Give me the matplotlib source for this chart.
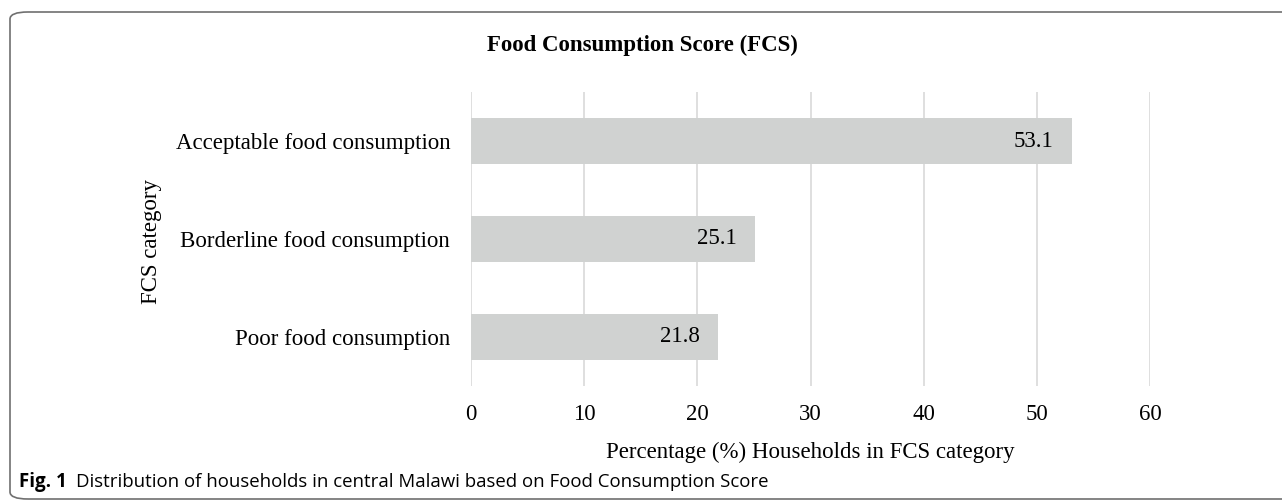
import matplotlib
matplotlib.use('Agg')
from matplotlib import pyplot as plt
from matplotlib.patches import FancyBboxPatch

categories = ['Acceptable food consumption', 'Borderline food consumption', 'Poor food consumption']
values = [53.1, 25.1, 21.8]
xticks = [0, 10, 20, 30, 40, 50, 60]

SERIF = 'Liberation Serif'
BAR = '#d0d2d1'
GRID = '#d9d9d9'
FS = 16.5

fig = plt.figure(figsize=(12.82, 5.01), dpi=100)
ax = fig.add_axes([471 / 1282, 1 - 386 / 501, (1150 - 471) / 1282, (386 - 92) / 501])

ypos = list(range(len(categories)))
bars = ax.barh(ypos, values, height=0.47, color=BAR, zorder=2)
ax.set_ylim(len(categories) - 0.5, -0.5)
ax.set_xlim(0, 60)
ax.set_xticks(xticks)
ax.set_yticks(ypos)
ax.set_yticklabels(categories, family=SERIF, fontsize=FS)
ax.set_xticklabels([str(t) for t in xticks], family=SERIF, fontsize=FS)
ax.tick_params(axis='y', length=0, pad=15)
ax.tick_params(axis='x', length=0, pad=13)
ax.grid(axis='x', color=GRID, linewidth=1.2, zorder=0)
for s in ax.spines.values():
    s.set_visible(False)

for b, v in zip(bars, values):
    ax.text(v - 1.6, b.get_y() + b.get_height() / 2, f'{v:.1f}', ha='right', va='center',
            family=SERIF, fontsize=FS, zorder=3)

ax.set_xlabel('Percentage (%) Households in FCS category', family=SERIF, fontsize=FS, labelpad=12)
fig.text(152 / 1282, 1 - 241 / 501, 'FCS category', rotation=90, ha='center', va='center',
         family=SERIF, fontsize=FS)

fig.text(642 / 1282, 1 - 45 / 501, 'Food Consumption Score (FCS)', ha='center', va='center',
         family=SERIF, fontsize=16.5, fontweight='bold')

# caption
fig.text(67 / 1282, 1 - 482 / 501, 'Fig. 1', ha='right', va='center',
         family='Open Sans', fontsize=13.5, fontweight='bold')
fig.text(76 / 1282, 1 - 482 / 501, 'Distribution of households in central Malawi based on Food Consumption Score',
         ha='left', va='center', family='Open Sans', fontsize=13.4)

# rounded frame, right side runs off the image
box = FancyBboxPatch((10 / 1282, 2 / 501), 1300 / 1282, 487 / 501,
                     boxstyle='round,pad=0,rounding_size=0.014', transform=fig.transFigure,
                     facecolor='none', edgecolor='#707070', linewidth=1.2)
fig.patches.append(box)

fig.savefig('out.png', dpi=100)
